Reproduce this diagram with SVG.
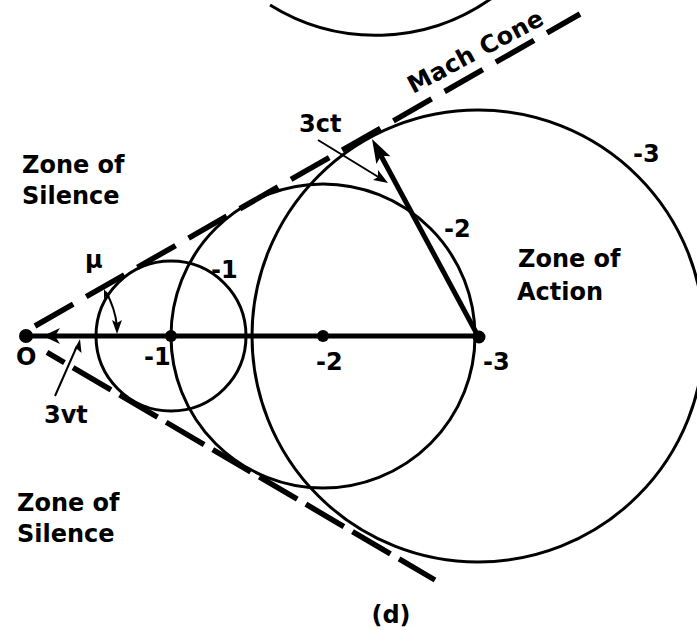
<svg xmlns="http://www.w3.org/2000/svg" width="697" height="630" viewBox="0 0 697 630">
<style>
.c{fill:none;stroke:#000;stroke-width:3}
.cone{fill:none;stroke:#000;stroke-width:5.5}
.t{font-family:"DejaVu Sans",sans-serif;font-weight:bold;font-size:24px;fill:#000}
.thin{fill:none;stroke:#000;stroke-width:2}
</style>
<rect width="697" height="630" fill="#fff"/>
<g id="prev-circle"><path class="c" d="M270,5 A200,200 0 0 0 492,-2"/></g>
<g id="circle-1"><circle class="c" cx="171" cy="336" r="75"/></g>
<g id="circle-2"><circle class="c" cx="323" cy="336" r="152"/></g>
<g id="circle-3"><circle class="c" cx="478" cy="336" r="226"/></g>
<g id="connectors">
<path class="cone" d="M35,326 L580,14" stroke-dasharray="44 15"/>
<path class="cone" d="M47,352.3 L435,580" stroke-dasharray="44 10" stroke-dashoffset="23.8"/>
<line x1="26" y1="336" x2="479" y2="336" stroke="#000" stroke-width="5"/>
<polygon points="43,336 60,328 55,336 60,344" fill="#000"/>
<line x1="478" y1="336" x2="381" y2="155.7" stroke="#000" stroke-width="5"/>
<polygon points="372,139 390.4,156.3 381,155.7 376.4,163.9" fill="#000"/>
<line class="thin" x1="55" y1="396" x2="77" y2="346"/>
<polygon points="80,339 81.5,353 77,349 74,350" fill="#000"/>
<line class="thin" x1="318" y1="140" x2="380" y2="178"/>
<polygon points="388,183 373,180 378,177 378,170" fill="#000"/>
<path class="thin" d="M106,292 A90,90 0 0 1 117,326"/>
<polygon points="117,334 112,320 117,323 122,320" fill="#000"/>
<polygon points="104,289 104,299 106,296 110,297" fill="#000"/>
</g>
<g id="points">
<circle cx="26" cy="336" r="7"/>
<circle cx="171" cy="336" r="6"/>
<circle cx="323" cy="336" r="6"/>
<circle cx="479" cy="337" r="6.5"/>
</g>
<g id="labels">
<text class="t" x="22" y="173">Zone of</text>
<text class="t" x="22" y="204">Silence</text>
<text class="t" x="17" y="511">Zone of</text>
<text class="t" x="17" y="542">Silence</text>
<text class="t" x="518" y="267">Zone of</text>
<text class="t" x="517" y="300">Action</text>
<text class="t" x="85" y="268">μ</text>
<text class="t" x="211" y="278" font-size="22">-1</text>
<text class="t" x="144" y="365">-1</text>
<text class="t" x="316" y="370">-2</text>
<text class="t" x="444" y="237">-2</text>
<text class="t" x="633" y="162">-3</text>
<text class="t" x="483" y="370">-3</text>
<text class="t" x="16" y="365">O</text>
<text class="t" x="44" y="423">3vt</text>
<text class="t" x="299" y="132">3ct</text>
<text class="t" x="391" y="623" text-anchor="middle">(d)</text>
<text class="t" transform="translate(413,94) rotate(-28)" textLength="150" lengthAdjust="spacing">Mach Cone</text>
</g>
</svg>
